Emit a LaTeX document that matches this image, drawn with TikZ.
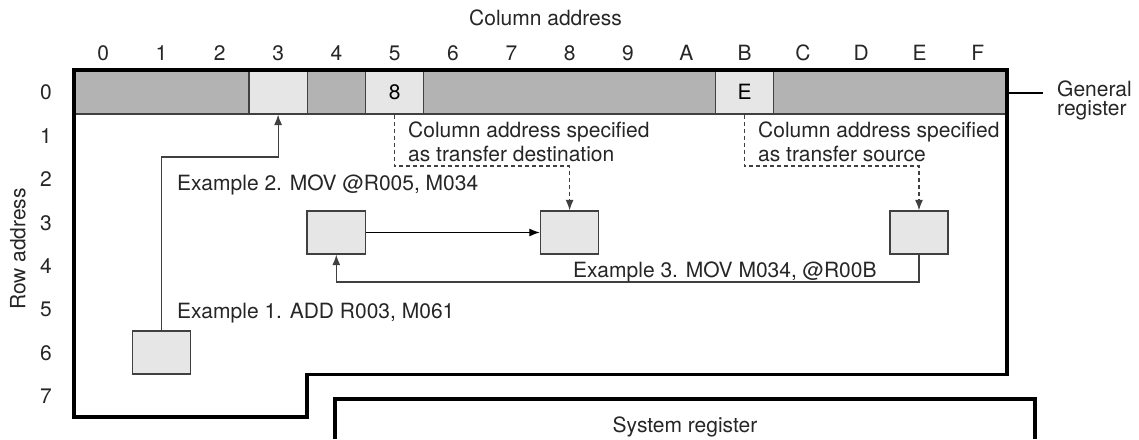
\documentclass[tikz,border=0pt]{standalone}
\usepackage{fontspec}
\setmainfont{TeX Gyre Heros}
\usetikzlibrary{arrows.meta}
\definecolor{cdark}{HTML}{B3B3B3}
\definecolor{clight}{HTML}{E6E6E6}
\definecolor{cline}{HTML}{404040}
\begin{document}
\begin{tikzpicture}[x=1pt,y=-1pt,
  font=\fontsize{21}{25}\selectfont,
  txt/.style={inner sep=0pt, text=black!85},
  band/.style={draw=cline, line width=1.2pt, fill=cdark, minimum width=933pt, minimum height=44pt, inner sep=0pt},
  lcell/.style={draw=cline, line width=1.2pt, fill=clight, minimum width=58.3pt, minimum height=44pt, inner sep=0pt},
  membox/.style={draw=cline, line width=1.4pt, fill=clight, minimum width=58.3pt, minimum height=43pt, inner sep=0pt},
  outline/.style={line width=3.2pt, line join=miter, black},
  conn/.style={line width=1.1pt, draw=black!75},
  tip/.style={-{Latex[length=10.5pt,width=8pt]}},
  dashconn/.style={line width=1.1pt, draw=black!75, dash pattern=on 4pt off 3pt}
]
\useasboundingbox (0,0) rectangle (1139,439);

% row 0 of the general register
\node[band] (band) at (540.5,92) {};
\node[lcell] (c3) at (278.1,92) {};
\node[lcell] (c5) at (394.7,92) {8};
\node[lcell] (cB) at (744.6,92) {E};

% outline of the general register
\draw[outline] (74,70) -- (1007,70) -- (1007,374.5) -- (307,374.5) -- (307,417) -- (74,417) -- cycle;

% system register
\draw[outline] (335,439) -- (335,399) -- (1035,399) -- (1035,439);
\node[txt, anchor=base] (sysreg) at (685,432) {System register};

% column labels
\node[txt, anchor=base] (coltitle) at (545.5,25.5) {Column address};
\foreach \i/\l in {0/0,1/1,2/2,3/3,4/4,5/5,6/6,7/7,8/8,9/9,10/A,11/B,12/C,13/D,14/E,15/F}{
  \node[txt, anchor=base] (col\i) at ({74+58.3125*(\i+0.5)},60.5) {\l};
}
% row labels
\foreach \j in {0,...,7}{
  \node[txt, anchor=base] (row\j) at (46,{92+43.4*\j+7.8}) {\j};
}
\node[txt, rotate=90] (rowtitle) at (18,249) {Row address};

% general register label
\draw[line width=1.1pt] (1009,93) coordinate (gr0) -- (1043,93) coordinate (gr1);
\node[txt, anchor=base west] (gen1) at (1057,96) {General};
\node[txt, anchor=base west] (gen2) at (1057,115.5) {register};

% memory boxes
\node[membox] (ex1) at (161.4,352.5) {};
\node[membox] (ex2a) at (336.3,232.5) {};
\node[membox] (ex2b) at (569.6,232.5) {};
\node[membox] (ex3) at (919.0,232.5) {};

% example 1
\coordinate (k1) at (278.1,157);
\draw[conn, tip] (ex1.north) |- (k1) -- (c3.south);
\node[txt, anchor=base west] (t1) at (177,318) {Example 1. ADD R003, M061};

% example 2
\draw[line width=1.1pt, black, tip] (ex2a.east) -- (ex2b.west);
\node[txt, anchor=base west] (t2) at (177,190.5) {Example 2. MOV @R005, M034};

% example 3
\coordinate (e3) at (336.3,282);
\draw[conn, tip] (ex3.south) |- (e3) -- (ex2a.south);
\node[txt, anchor=base west] (t3) at (573,277) {Example 3. MOV M034, @R00B};

% destination / source notes
\coordinate (d1) at (569.6,166);
\draw[dashconn, tip] (c5.south) |- (d1) -- (ex2b.north);
\node[txt, anchor=base west] (n1a) at (408,137) {Column address specified};
\node[txt, anchor=base west] (n1b) at (408,161) {as transfer destination};

\coordinate (d2) at (919.0,166);
\draw[dashconn, tip] (cB.south) |- (d2) -- (ex3.north);
\node[txt, anchor=base west] (n2a) at (758,137) {Column address specified};
\node[txt, anchor=base west] (n2b) at (758,161) {as transfer source};
\end{tikzpicture}
\end{document}
